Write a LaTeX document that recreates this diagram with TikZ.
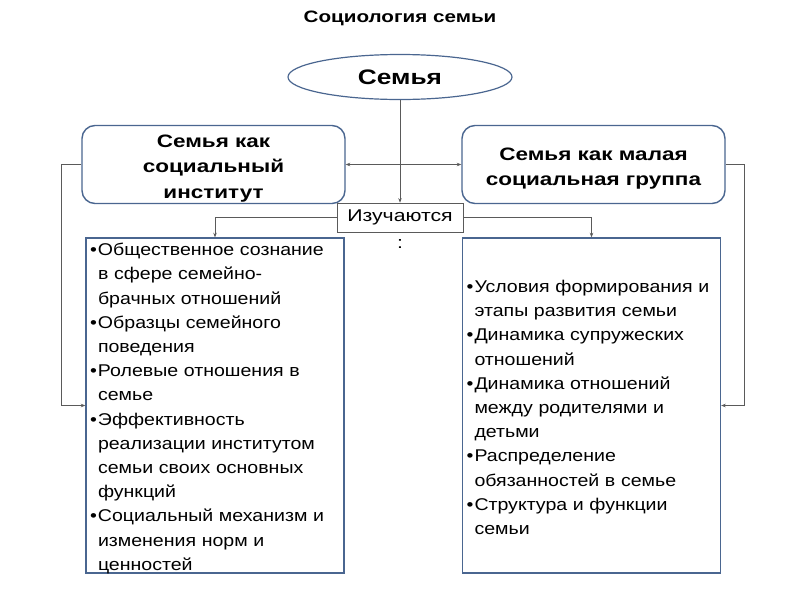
\documentclass[tikz,border=0pt]{standalone}
\usepackage{fontspec}
\setmainfont[FakeStretch=1.25]{Liberation Sans}
\newfontfamily\listfont[FakeStretch=1.15]{Liberation Sans}
\usetikzlibrary{arrows.meta,shapes.geometric}
\definecolor{boxblue}{HTML}{4A6690}
\definecolor{linegray}{HTML}{5A5A5A}
\newcommand\bul{\makebox[8pt][l]{•}}
\newcommand\ind{\hspace*{8pt}}
\begin{document}
\begin{tikzpicture}[x=1pt,y=-1pt,
  frame/.style={draw=boxblue, line width=1.4pt, fill=white},
  headbox/.style={frame, rounded corners=13pt, minimum width=263pt, minimum height=78pt, inner sep=0pt},
  headtext/.style={align=center, inner sep=0pt, font=\bfseries\fontsize{18}{25.5}\selectfont},
  listbox/.style={frame, minimum width=258pt, minimum height=335pt, inner sep=0pt},
  listtext/.style={text width=252pt, inner sep=0pt, align=left, font=\listfont\fontsize{17}{24.2}\selectfont},
  conn/.style={draw=linegray, line width=0.7pt},
  tip/.style={-{Stealth[length=4.5pt,width=3.5pt]}},
  tips/.style={{Stealth[length=4.5pt,width=3.5pt]}-{Stealth[length=4.5pt,width=3.5pt]}}
]
\useasboundingbox (0,0) rectangle (800,600);
\fill[white] (0,0) rectangle (800,600);

\node[font=\bfseries\fontsize{16.5}{20}\selectfont] (title) at (400,18) {Социология семьи};

\node[ellipse, draw=boxblue, line width=1.2pt, minimum width=224pt, minimum height=45pt,
  inner sep=0pt, font=\bfseries\fontsize{21}{25}\selectfont] (fam) at (400,77) {Семья};

\node[headbox] (inst) at (213.5,164.5) {};
\node[headtext] (instt) at ([yshift=-4pt]inst.center) {Семья как\\социальный\\институт};
\node[headbox] (grp) at (593.5,164.5) {};
\node[headtext] (grpt) at ([yshift=-4pt]grp.center) {Семья как малая\\социальная группа};

\node[draw=linegray, line width=0.7pt, fill=white, minimum width=126pt, minimum height=29pt,
  inner sep=0pt, font=\fontsize{17}{20}\selectfont] (izu) at (400,217.5) {Изучаются};
\node[font=\fontsize{17}{20}\selectfont] (colon) at (400,244) {:};

\node[listbox] (llist) at (215,405.5) {};
\node[listtext] (llistt) at ([xshift=1pt,yshift=-3pt]llist.center) {%
\bul Общественное сознание\\
\ind в сфере семейно-\\
\ind брачных отношений\\
\bul Образцы семейного\\
\ind поведения\\
\bul Ролевые отношения в\\
\ind семье\\
\bul Эффективность\\
\ind реализации институтом\\
\ind семьи своих основных\\
\ind функций\\
\bul Социальный механизм и\\
\ind изменения норм и\\
\ind ценностей};

\node[listbox] (rlist) at (591.5,405.5) {};
\node[listtext] (rlistt) at ([xshift=1pt,yshift=-2pt]rlist.center) {%
\bul Условия формирования и\\
\ind этапы развития семьи\\
\bul Динамика супружеских\\
\ind отношений\\
\bul Динамика отношений\\
\ind между родителями и\\
\ind детьми\\
\bul Распределение\\
\ind обязанностей в семье\\
\bul Структура и функции\\
\ind семьи};

\draw[conn, tip] (fam.south) -- (izu.north);
\draw[conn, tips] (inst.east) -- (grp.west);
\draw[conn, tip] (izu.west) -| (llist.north);
\draw[conn, tip] (izu.east) -| (rlist.north);
\draw[conn, tip] (inst.west) -- ++(-20,0) |- (llist.west);
\draw[conn, tip] (grp.east) -- ++(19,0) |- (rlist.east);
\end{tikzpicture}
\end{document}
